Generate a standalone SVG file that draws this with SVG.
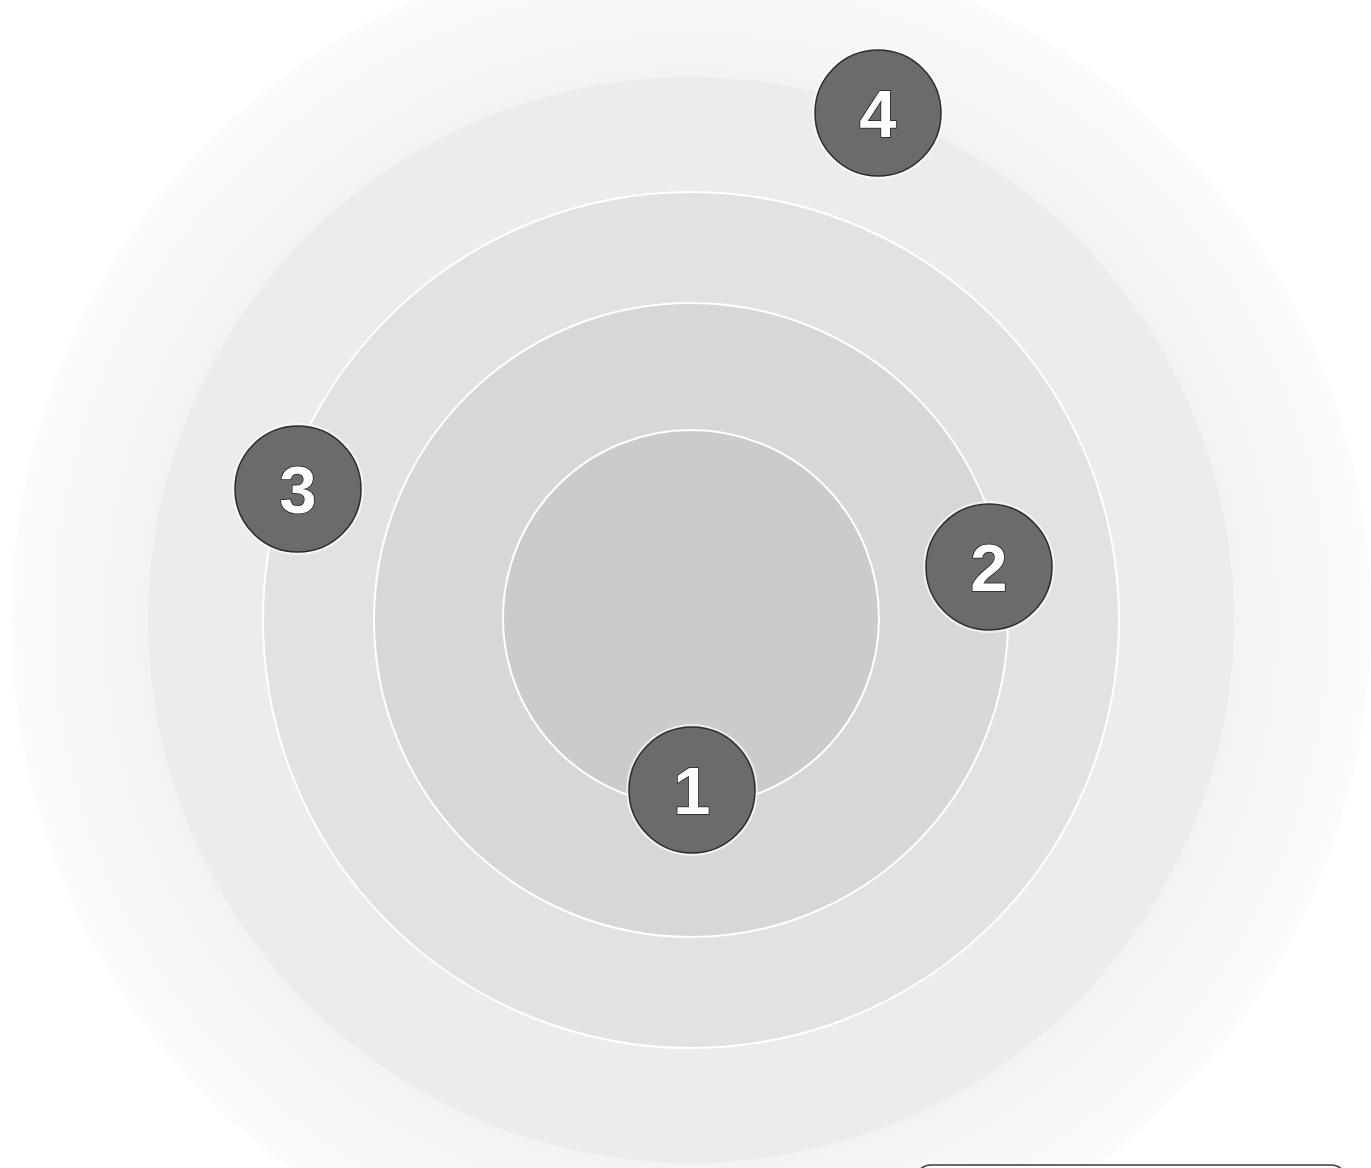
<svg xmlns="http://www.w3.org/2000/svg" width="1371" height="1168" viewBox="0 0 1371 1168">
  <defs>
    <radialGradient id="gOuter" cx="691" cy="620" r="680" gradientUnits="userSpaceOnUse">
      <stop offset="0.8" stop-color="#f3f3f3"/>
      <stop offset="1" stop-color="#fbfbfb"/>
    </radialGradient>
  </defs>
  <style>
    .ring { stroke: #ffffff; stroke-width: 2; }
    .halo { fill: #ffffff; opacity: 0.6; }
    .node { fill: #6b6b6b; stroke: #2b2b2b; stroke-width: 1.5; }
    .num { font-family: "Liberation Sans", Arial, sans-serif; font-weight: bold; font-size: 67px; fill: #ffffff; stroke: #1e1e1e; stroke-width: 1.5; paint-order: stroke; text-anchor: middle; }
  </style>
  <rect width="1371" height="1168" fill="#ffffff"/>
  <g id="rings">
    <circle id="ring-a" cx="691" cy="620" r="680" fill="url(#gOuter)"/>
    <circle id="ring-b" cx="691" cy="620" r="543" fill="#ececec"/>
    <circle id="ring-c" class="ring" cx="691" cy="620" r="428" fill="#e2e2e2"/>
    <circle id="ring-d" class="ring" cx="691" cy="620" r="317" fill="#d7d7d7"/>
    <circle id="ring-e" class="ring" cx="691" cy="618" r="188" fill="#cbcbcb"/>
  </g>
  <g id="connectors"></g>
  <g id="node-4">
    <circle class="halo" cx="878" cy="113" r="66"/>
    <circle class="node" cx="878" cy="113" r="63"/>
    <text class="num" x="878" y="137">4</text>
  </g>
  <g id="node-3">
    <circle class="halo" cx="298" cy="489" r="66"/>
    <circle class="node" cx="298" cy="489" r="63"/>
    <text class="num" x="298" y="513">3</text>
  </g>
  <g id="node-2">
    <circle class="halo" cx="989" cy="567" r="66"/>
    <circle class="node" cx="989" cy="567" r="63"/>
    <text class="num" x="989" y="591">2</text>
  </g>
  <g id="node-1">
    <circle class="halo" cx="692" cy="790" r="66"/>
    <circle class="node" cx="692" cy="790" r="63"/>
    <text class="num" x="692" y="814">1</text>
  </g>
  <g id="box">
    <rect x="915" y="1165" width="432" height="60" rx="16" ry="16" fill="#ffffff" stroke="#3a3a3a" stroke-width="1.5"/>
  </g>
</svg>
